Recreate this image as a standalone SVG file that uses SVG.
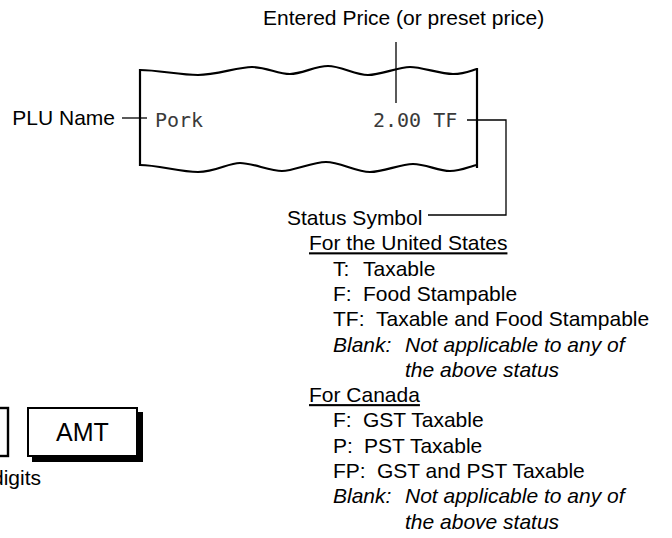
<svg xmlns="http://www.w3.org/2000/svg" width="672" height="538" viewBox="0 0 672 538">
<style>
.t{font-family:"Liberation Sans",Arial,sans-serif;font-size:21px;fill:#000}
.i{font-style:italic}
.u{text-decoration:underline}
.m{font-family:"DejaVu Sans Mono","Liberation Mono",monospace;font-size:20px;fill:#3a3a3a}
.ln{fill:none;stroke:#000;stroke-width:1.3}
.rc{fill:none;stroke:#000;stroke-width:2.2;stroke-linejoin:round}
</style>
<rect width="672" height="538" fill="#fff"/>
<g id="receipt">
<path class="rc" d="M140,70 C158,70 180,75 198,75 S238,67 252,67 S278,74 290,74 S315,66 328,66 S355,75 368,75 S398,67 410,67 S440,74 453,74 S472,70 477,69"/>
<path class="rc" d="M140,165 C158,165 180,172 198,172 S228,163 240,163 S270,171 282,171 S312,162 326,162 S356,172 370,172 S400,164 413,164 S438,171 450,171 S470,166 477,165"/>
<line class="rc" x1="140" y1="69" x2="140" y2="166"/>
<line class="rc" x1="477" y1="68" x2="477" y2="168"/>
<text class="m" x="155" y="127">Pork</text>
<text class="m" x="373" y="127">2.00 TF</text>
</g>
<g id="connectors">
<line class="ln" x1="396" y1="42" x2="396" y2="103"/>
<line class="ln" x1="122" y1="118" x2="147" y2="118"/>
<polyline class="ln" points="467,120 506,120 506,215 428,215"/>
</g>
<g id="label-entered-price">
<text class="t" x="263" y="25">Entered Price (or preset price)</text>
</g>
<g id="label-plu-name">
<text class="t" x="115" y="125" text-anchor="end">PLU Name</text>
</g>
<g id="label-status">
<text class="t" x="287" y="225">Status Symbol</text>
<text class="t u" x="309" y="250.3">For the United States</text>
<text class="t" y="275.6"><tspan x="333">T:</tspan><tspan x="363">Taxable</tspan></text>
<text class="t" y="300.9"><tspan x="333">F:</tspan><tspan x="363">Food Stampable</tspan></text>
<text class="t" y="326.2"><tspan x="333">TF:</tspan><tspan x="376">Taxable and Food Stampable</tspan></text>
<text class="t i" y="351.5"><tspan x="333">Blank:</tspan><tspan x="405">Not applicable to any of</tspan></text>
<text class="t i" x="405" y="376.8">the above status</text>
<text class="t u" x="309" y="402.1">For Canada</text>
<text class="t" y="427.4"><tspan x="333">F:</tspan><tspan x="363">GST Taxable</tspan></text>
<text class="t" y="452.7"><tspan x="333">P:</tspan><tspan x="364">PST Taxable</tspan></text>
<text class="t" y="478"><tspan x="333">FP:</tspan><tspan x="377">GST and PST Taxable</tspan></text>
<text class="t i" y="503.3"><tspan x="333">Blank:</tspan><tspan x="405">Not applicable to any of</tspan></text>
<text class="t i" x="405" y="528.6">the above status</text>
</g>
<g id="key-left">
<rect x="-100" y="408" width="108" height="48" fill="#fff" stroke="#000" stroke-width="2.4"/>
<text class="t" x="41" y="485" text-anchor="end">digits</text>
</g>
<g id="key-amt">
<rect x="32" y="412" width="111" height="50" fill="#000"/>
<rect x="28" y="408" width="109" height="48" fill="#fff" stroke="#000" stroke-width="2"/>
<text class="t" x="82.5" y="441" text-anchor="middle" style="font-size:25px">AMT</text>
</g>
</svg>
